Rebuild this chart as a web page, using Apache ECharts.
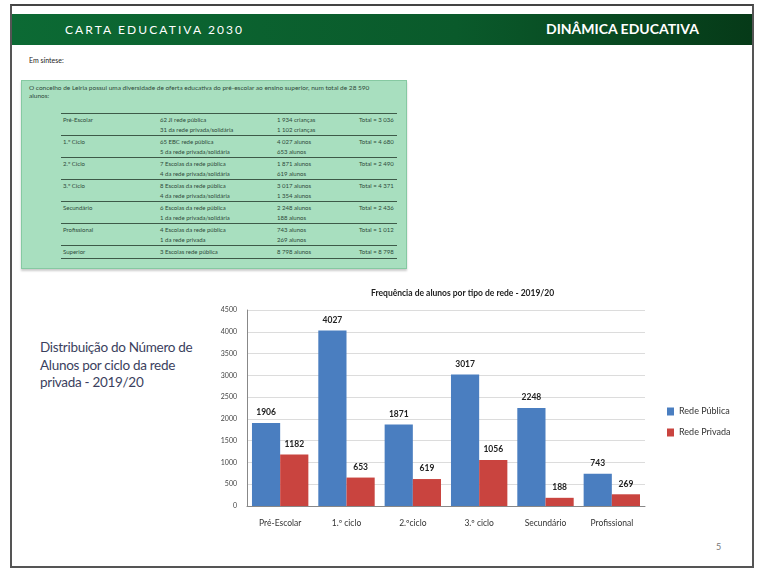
<!DOCTYPE html>
<html>
<head>
<meta charset="utf-8">
<script src="https://cdn.jsdelivr.net/npm/echarts@6/dist/echarts.min.js"></script>
<style>
  body { margin: 0; width: 758px; height: 570px; background: #fff; font-family: Lato, "Open Sans", sans-serif; position: relative; overflow: hidden; }
  .frame { position: absolute; left: 10px; top: 4px; width: 740px; height: 560px; border: 2px solid #555; border-top-color: #444; }
  .header { position: absolute; left: 12px; top: 14px; width: 740px; height: 31px;
    background: linear-gradient(to right, #0c6a34 0%, #0a5a2b 60%, #063a18 100%); color: #fff; }
  .header .l { position: absolute; left: 53px; top: 8px; font-size: 12px; letter-spacing: 2.1px; }
  .header .r { position: absolute; left: 534px; top: 6px; font-size: 14px; font-weight: bold; }
  .sint { position: absolute; left: 29px; top: 56px; font-size: 7px; color: #222; }
  .box { position: absolute; left: 21px; top: 80px; width: 384px; height: 187px; background: #a8dfbf; border: 1px solid #86c9a2; box-shadow: 0 2px 2px #ccc; }
  .box .intro { position: absolute; left: 7px; top: 3px; width: 350px; font-size: 6.5px; line-height: 7.5px; color: #2f4a3a; }
  table { position: absolute; left: 39px; top: 32px; border-collapse: collapse; table-layout: fixed; font-size: 6px; color: #2e4a3a; }
  td { border-top: 1px solid #3d5a48; padding: 1px 0 1px 2px; line-height: 9.5px; vertical-align: top; white-space: nowrap; overflow: visible; }
  tr:last-child td { border-bottom: 1px solid #3d5a48; }
  .side { position: absolute; left: 40px; top: 339px; font-size: 13.5px; letter-spacing: -0.3px; line-height: 17.5px; color: #3b3f5e; width: 165px; }
  .pg { position: absolute; left: 716px; top: 541px; font-size: 9px; color: #777; }
  #chart { position: absolute; left: 200px; top: 280px; width: 550px; height: 260px; }
</style>
</head>
<body>
<div class="frame"></div>
<div class="header"><span class="l">CARTA EDUCATIVA 2030</span><span class="r">DINÂMICA EDUCATIVA</span></div>
<div class="sint">Em síntese:</div>
<div class="box">
  <div class="intro">O concelho de Leiria possui uma diversidade de oferta educativa do pré-escolar ao ensino superior, num total de 28 590 alunos:</div>
  <table id="tbl"></table>
</div>
<div class="side">Distribuição do Número de Alunos por ciclo da rede privada - 2019/20</div>
<div class="pg">5</div>
<div id="chart"></div>
<script>
// tabela de síntese
const tableLevels = ["Pré-Escolar", "1.º Ciclo", "2.º Ciclo", "3.º Ciclo", "Secundário", "Profissional", "Superior"];
const tableSchools = [
  ["62 JI rede pública", "31 da rede privada/solidária"],
  ["65 EBC rede pública", "5 da rede privada/solidária"],
  ["7 Escolas da rede pública", "4 da rede privada/solidária"],
  ["8 Escolas da rede pública", "4 da rede privada/solidária"],
  ["6 Escolas da rede pública", "1 da rede privada/solidária"],
  ["4 Escolas da rede pública", "1 da rede privada"],
  ["3 Escolas rede pública"]
];
const tableStudents = [
  ["1 934 crianças", "1 102 crianças"],
  ["4 027 alunos", "653 alunos"],
  ["1 871 alunos", "619 alunos"],
  ["3 017 alunos", "1 354 alunos"],
  ["2 248 alunos", "188 alunos"],
  ["743 alunos", "269 alunos"],
  ["8 798 alunos"]
];
const tableTotals = ["Total = 3 036", "Total = 4 680", "Total = 2 490", "Total = 4 371", "Total = 2 436", "Total = 1 012", "Total = 8 798"];

// gráfico
const categories = ["Pré-Escolar", "1.º ciclo", "2.ºciclo", "3.º ciclo", "Secundário", "Profissional"];
const redePublica = [1906, 4027, 1871, 3017, 2248, 743];
const redePrivada = [1182, 653, 619, 1056, 188, 269];

const tbl = document.getElementById("tbl");
const widths = ["95px", "115px", "80px", "38px"];
tableLevels.forEach((lvl, i) => {
  const tr = document.createElement("tr");
  const cells = [lvl, tableSchools[i].join("<br>"), tableStudents[i].join("<br>"), tableTotals[i]];
  cells.forEach((c, j) => {
    const td = document.createElement("td");
    td.innerHTML = c;
    td.style.width = widths[j];
    tr.appendChild(td);
  });
  tbl.appendChild(tr);
});

const labelStyle = { show: true, position: "top", distance: 6, fontSize: 8.5, fontWeight: "bold", color: "#222", fontFamily: "Lato" };

const chart = echarts.init(document.getElementById("chart"));
chart.setOption({
  animation: false,
  title: {
    text: "Frequência de alunos por tipo de rede - 2019/20",
    left: 166,
    top: 4,
    textStyle: { fontSize: 8.5, fontWeight: "bold", color: "#222", fontFamily: "Lato" }
  },
  legend: {
    orient: "vertical",
    left: 462,
    top: 122,
    itemWidth: 7,
    itemHeight: 8,
    itemGap: 12,
    icon: "rect",
    textStyle: { fontSize: 9, color: "#333", fontFamily: "Lato" },
    data: ["Rede Pública", "Rede Privada"]
  },
  grid: { left: 47, top: 30, width: 398, height: 196 },
  xAxis: {
    type: "category",
    data: categories,
    axisLine: { lineStyle: { color: "#888" } },
    axisTick: { show: false },
    axisLabel: { fontSize: 8.5, color: "#333", margin: 13, fontFamily: "Lato" }
  },
  yAxis: {
    type: "value",
    min: 0,
    max: 4500,
    interval: 500,
    axisLine: { show: true, lineStyle: { color: "#888" } },
    axisTick: { show: false },
    splitLine: { lineStyle: { color: "#dcdcdc" } },
    axisLabel: { fontSize: 7, color: "#444", margin: 10, fontFamily: "Lato", formatter: (v) => String(v) }
  },
  series: [
    {
      name: "Rede Pública",
      type: "bar",
      data: redePublica,
      barGap: "0%",
      barCategoryGap: "15%",
      itemStyle: { color: "#4a7ec0" },
      label: labelStyle
    },
    {
      name: "Rede Privada",
      type: "bar",
      data: redePrivada,
      itemStyle: { color: "#c9443f" },
      label: labelStyle
    }
  ]
});
</script>
</body>
</html>
